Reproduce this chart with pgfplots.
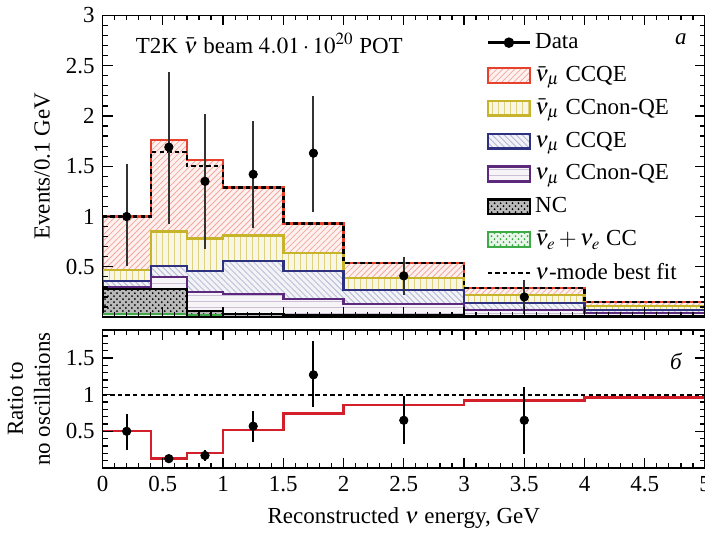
\documentclass[border=0pt]{standalone}
\usepackage{mathptmx}
\usepackage{fontspec}
\setmainfont{Liberation Serif}
\usepackage{pgfplots}
\pgfplotsset{compat=1.18}
\usetikzlibrary{patterns}

\definecolor{ccqeRed}{HTML}{E8412B}
\definecolor{nonqeYel}{HTML}{C8B42A}
\definecolor{numuBlue}{HTML}{2E3080}
\definecolor{numuPur}{HTML}{5B2A7C}
\definecolor{nueGrn}{HTML}{3DAA45}
\definecolor{ratioRed}{HTML}{D21F2A}

\pgfplotsset{
  boxleg/.style={legend image code/.code={\draw[##1] (0cm,-0.13cm) rectangle (0.74cm,0.13cm);}},
  dataleg/.style={legend image code/.code={\draw[##1] (0cm,0cm) -- (0.74cm,0cm); \fill[black] (0.37cm,0cm) circle (2pt);}},
  lineleg/.style={legend image code/.code={\draw[##1] (0cm,0cm) -- (0.74cm,0cm);}},
  stk/.style={const plot mark left, line width=1.2pt},
  redfill/.style={draw=ccqeRed, fill=ccqeRed!7, postaction={pattern=north east lines, pattern color=ccqeRed!45}},
  yelfill/.style={draw=nonqeYel, fill=nonqeYel!12, postaction={pattern=vertical lines, pattern color=nonqeYel!60}},
  bluefill/.style={draw=numuBlue, fill=numuBlue!6, postaction={pattern=north west lines, pattern color=numuBlue!35}},
  purfill/.style={draw=numuPur, fill=numuPur!5, postaction={pattern=horizontal lines, pattern color=numuPur!30}},
  ncfill/.style={draw=black, fill=gray!55, postaction={pattern=crosshatch dots, pattern color=black}},
  grnfill/.style={draw=nueGrn, fill=nueGrn!12, postaction={pattern=crosshatch dots, pattern color=nueGrn}},
  panel/.style={scale only axis, width=301.5pt, xmin=0, xmax=5,
    xtick={0,0.5,1,1.5,2,2.5,3,3.5,4,4.5,5}, minor xtick={0,0.1,...,5},
    tick align=inside, major tick length=5pt, minor tick length=2.5pt,
    axis on top, tick style={black, line width=0.6pt}, axis line style={line width=0.8pt},
    /pgf/number format/assume math mode=true},
}

\begin{document}
\fontsize{11.5}{13.5}\selectfont
\begin{tikzpicture}[trim axis right]
\begin{axis}[panel, name=top, height=151pt, ymin=0, ymax=3,
    xticklabels={},
    ytick={0.5,1,1.5,2,2.5,3}, minor ytick={0,0.1,...,3},
    ylabel={Events/0.1 GeV},
    legend style={draw=none, fill=none, at={(0.627,0.968)}, anchor=north west,
      cells={anchor=west}, row sep=3.1pt, font=\fontsize{11.5}{13.5}\selectfont},
]
% stacked histograms, cumulative tops, bins 0-0.4-0.7-1-1.5-2-3-4-5
\addplot[stk, redfill, forget plot] coordinates {
  (0,1.00)(0.4,1.76)(0.7,1.56)(1,1.29)(1.5,0.93)(2,0.54)(3,0.29)(4,0.15)(5,0.15)} \closedcycle;
\addplot[stk, yelfill, forget plot] coordinates {
  (0,0.47)(0.4,0.85)(0.7,0.78)(1,0.81)(1.5,0.64)(2,0.39)(3,0.22)(4,0.11)(5,0.11)} \closedcycle;
\addplot[stk, bluefill, forget plot] coordinates {
  (0,0.36)(0.4,0.51)(0.7,0.46)(1,0.56)(1.5,0.46)(2,0.27)(3,0.14)(4,0.07)(5,0.07)} \closedcycle;
\addplot[stk, purfill, forget plot] coordinates {
  (0,0.30)(0.4,0.40)(0.7,0.25)(1,0.23)(1.5,0.18)(2,0.13)(3,0.07)(4,0.04)(5,0.04)} \closedcycle;
\addplot[stk, ncfill, forget plot] coordinates {
  (0,0.28)(0.4,0.28)(0.7,0.06)(1,0.03)(1.5,0.02)(2,0.02)(3,0.01)(4,0.01)(5,0.01)} \closedcycle;
\addplot[const plot mark left, line width=0.7pt, grnfill, forget plot] coordinates {
  (0,0.03)(0.4,0.03)(0.7,0.02)(1,0)(1.5,0)(2,0)(3,0)(4,0)(5,0)} \closedcycle;
% nu-mode best fit
\addplot[const plot mark left, black, line width=1.2pt, dash pattern=on 2.2pt off 1.6pt, forget plot] coordinates {
  (0,1.00)(0.4,1.64)(0.7,1.50)(1,1.29)(1.5,0.93)(2,0.54)(3,0.29)(4,0.15)(5,0.15)};
% data
\addplot[black, only marks, mark=*, mark size=2.1pt, forget plot,
    error bars/.cd, y dir=both, y explicit, error mark=none,
    error bar style={line width=1pt, black!80}] coordinates {
  (0.2,1.00) += (0,0.52) -= (0,0.49)
  (0.55,1.69) += (0,0.75) -= (0,0.76)
  (0.85,1.35) += (0,0.67) -= (0,0.67)
  (1.25,1.42) += (0,0.53) -= (0,0.53)
  (1.75,1.63) += (0,0.57) -= (0,0.58)
  (2.5,0.41) += (0,0.19) -= (0,0.19)
  (3.5,0.20) += (0,0.17) -= (0,0.17)
};
\addlegendimage{dataleg, black, line width=1.2pt}
\addlegendentry{Data}
\addlegendimage{boxleg, line width=1.2pt, redfill}
\addlegendentry{$\bar{\nu}_\mu$ CCQE}
\addlegendimage{boxleg, line width=1.2pt, yelfill}
\addlegendentry{$\bar{\nu}_\mu$ CCnon-QE}
\addlegendimage{boxleg, line width=1.2pt, bluefill}
\addlegendentry{$\nu_\mu$ CCQE}
\addlegendimage{boxleg, line width=1.2pt, purfill}
\addlegendentry{$\nu_\mu$ CCnon-QE}
\addlegendimage{boxleg, line width=1.2pt, ncfill}
\addlegendentry{NC}
\addlegendimage{boxleg, line width=1.2pt, grnfill}
\addlegendentry{$\bar{\nu}_e+\nu_e$ CC}
\addlegendimage{lineleg, black, line width=1.2pt, dash pattern=on 2.2pt off 1.6pt}
\addlegendentry{$\nu$-mode best fit}
\node[anchor=west] at (axis cs:0.21,2.72) {T2K $\bar{\nu}$ beam $4.01\cdot10^{20}$ POT};
\node at (axis cs:4.8,2.76) {\textit{a}};
\end{axis}

\begin{axis}[panel, at={(top.south west)}, yshift=-6.5pt, anchor=north west,
    height=69pt, ymin=0, ymax=1.88,
    ytick={0.5,1,1.5}, minor ytick={0.1,0.2,...,1.8},
    ylabel={Ratio to\\no oscillations}, ylabel style={align=center},
    xlabel={Reconstructed $\nu$ energy, GeV},
]
\addplot[black, line width=1.1pt, dash pattern=on 2.2pt off 1.6pt] coordinates {(0,1)(5,1)};
\addplot[const plot mark left, ratioRed, line width=1.2pt] coordinates {
  (0,0.50)(0.4,0.127)(0.7,0.20)(1,0.52)(1.5,0.74)(2,0.86)(3,0.92)(4,0.96)(5,0.96)};
\addplot[black, only marks, mark=*, mark size=2.1pt,
    error bars/.cd, y dir=both, y explicit, error mark=none,
    error bar style={line width=1pt, black}] coordinates {
  (0.2,0.50) += (0,0.24) -= (0,0.25)
  (0.55,0.127) += (0,0.02) -= (0,0.02)
  (0.85,0.17) += (0,0.08) -= (0,0.08)
  (1.25,0.57) += (0,0.21) -= (0,0.22)
  (1.75,1.27) += (0,0.46) -= (0,0.44)
  (2.5,0.65) += (0,0.33) -= (0,0.32)
  (3.5,0.65) += (0,0.46) -= (0,0.46)
};
\node at (axis cs:4.76,1.45) {\textit{б}};
\end{axis}
\end{tikzpicture}
\end{document}
